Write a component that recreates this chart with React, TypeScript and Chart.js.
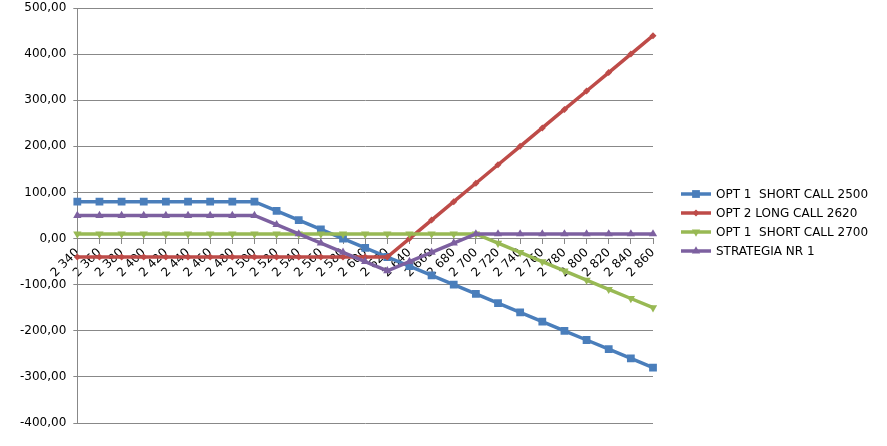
import React, { useEffect, useRef } from "react";
import { Chart, registerables } from "chart.js";

Chart.register(...registerables);

const categories = [
  "2 340", "2 360", "2 380", "2 400", "2 420", "2 440", "2 460", "2 480", "2 500",
  "2 520", "2 540", "2 560", "2 580", "2 600", "2 620", "2 640", "2 660", "2 680",
  "2 700", "2 720", "2 740", "2 760", "2 780", "2 800", "2 820", "2 840", "2 860",
];

const opt1Short2500 = [
  80, 80, 80, 80, 80, 80, 80, 80, 80, 60, 40, 20, 0, -20, -40, -60, -80, -100,
  -120, -140, -160, -180, -200, -220, -240, -260, -280,
];
const opt2Long2620 = [
  -40, -40, -40, -40, -40, -40, -40, -40, -40, -40, -40, -40, -40, -40, -40, 0, 40, 80,
  120, 160, 200, 240, 280, 320, 360, 400, 440,
];
const opt1Short2700 = [
  10, 10, 10, 10, 10, 10, 10, 10, 10, 10, 10, 10, 10, 10, 10, 10, 10, 10,
  10, -10, -30, -50, -70, -90, -110, -130, -150,
];
const strategia = [
  50, 50, 50, 50, 50, 50, 50, 50, 50, 30, 10, -10, -30, -50, -70, -50, -30, -10,
  10, 10, 10, 10, 10, 10, 10, 10, 10,
];

const seriesNames = [
  "OPT 1  SHORT CALL 2500",
  "OPT 2 LONG CALL 2620",
  "OPT 1  SHORT CALL 2700",
  "STRATEGIA NR 1",
];

const yMin = -400;
const yMax = 500;
const yStep = 100;

const FONT = "'DejaVu Sans', sans-serif";
const colors = ["#4A7EBB", "#BE4B48", "#98B954", "#7D60A0"];
const styles = ["rect", "rectRot", "triangle", "triangle"];
const rotations = [0, 0, 180, 0];
const radii = [5.5, 3.5, 4.8, 4.8];

function drawMarker(ctx: CanvasRenderingContext2D, style: string, rotation: number, radius: number) {
  ctx.save();
  ctx.rotate((rotation * Math.PI) / 180);
  ctx.beginPath();
  if (style === "rect") {
    const s = radius * Math.SQRT1_2;
    ctx.rect(-s, -s, 2 * s, 2 * s);
  } else if (style === "rectRot") {
    ctx.moveTo(0, -radius);
    ctx.lineTo(radius, 0);
    ctx.lineTo(0, radius);
    ctx.lineTo(-radius, 0);
    ctx.closePath();
  } else {
    ctx.moveTo(0, -radius);
    ctx.lineTo(radius * 0.866, radius * 0.5);
    ctx.lineTo(-radius * 0.866, radius * 0.5);
    ctx.closePath();
  }
  ctx.fill();
  ctx.restore();
}

const legendPlugin = {
  id: "sideLegend",
  afterDraw(chart: any) {
    const ctx: CanvasRenderingContext2D = chart.ctx;
    const x0 = chart.chartArea.right + 28;
    const rowH = 19;
    const y0 = chart.height / 2 - ((seriesNames.length - 1) * rowH) / 2 - 0.5;
    ctx.save();
    ctx.font = `12px ${FONT}`;
    ctx.textBaseline = "middle";
    ctx.textAlign = "left";
    seriesNames.forEach((name, i) => {
      const y = y0 + i * rowH;
      ctx.strokeStyle = colors[i];
      ctx.fillStyle = colors[i];
      ctx.lineWidth = 3.5;
      ctx.beginPath();
      ctx.moveTo(x0, y);
      ctx.lineTo(x0 + 30, y);
      ctx.stroke();
      ctx.save();
      ctx.translate(x0 + 15, y);
      drawMarker(ctx, styles[i], rotations[i], radii[i]);
      ctx.restore();
      ctx.fillStyle = "#000";
      ctx.fillText(name, x0 + 35, y + 0.5);
    });
    ctx.restore();
  },
};

export default function App() {
  const ref = useRef<HTMLCanvasElement | null>(null);

  useEffect(() => {
    if (!ref.current) return;
    const values = [opt1Short2500, opt2Long2620, opt1Short2700, strategia];

    const chart = new Chart(ref.current, {
      type: "line",
      data: {
        labels: categories,
        datasets: values.map((v, i) => ({
          label: seriesNames[i],
          data: v,
          borderColor: colors[i],
          backgroundColor: colors[i],
          borderWidth: 3.5,
          pointStyle: styles[i] as any,
          rotation: rotations[i],
          pointRadius: radii[i],
          pointBorderWidth: 0,
          pointBackgroundColor: colors[i],
          pointBorderColor: colors[i],
          tension: 0,
          order: 4 - i,
        })),
      },
      options: {
        responsive: false,
        animation: false,
        layout: { padding: { left: 13, right: 234, top: 8, bottom: 23 } },
        plugins: {
          tooltip: { enabled: false },
          legend: { display: false },
        },
        scales: {
          x: {
            type: "category",
            position: { y: 0 } as any,
            offset: false,
            z: 1,
            grid: { drawOnChartArea: false, drawTicks: true, tickLength: 5, color: "#888" },
            border: { color: "#888", width: 1 },
            ticks: {
              font: { family: FONT, size: 12 },
              color: "#000",
              minRotation: 45,
              maxRotation: 45,
              autoSkip: false,
              padding: 2,
            },
            afterFit: (scale: any) => {
              scale.height = 0;
              scale.paddingLeft = 0;
              scale.paddingRight = 0;
              scale.paddingTop = 0;
              scale.paddingBottom = 0;
            },
          },
          y: {
            min: yMin,
            max: yMax,
            ticks: {
              stepSize: yStep,
              font: { family: FONT, size: 12 },
              color: "#000",
              padding: 7,
              callback: (v: any) => Number(v).toFixed(2).replace(".", ","),
            },
            grid: { color: "#888", tickLength: 4, drawTicks: true },
            border: { color: "#888", width: 1 },
            afterFit: (scale: any) => {
              scale.paddingTop = 0;
              scale.paddingBottom = 0;
            },
          },
        },
      },
      plugins: [legendPlugin],
    });
    return () => chart.destroy();
  }, []);

  return (
    <div style={{ position: "absolute", left: 0, top: 0, width: 887, height: 446, background: "#fff" }}>
      <canvas ref={ref} width={887} height={446} style={{ display: "block" }} />
    </div>
  );
}
